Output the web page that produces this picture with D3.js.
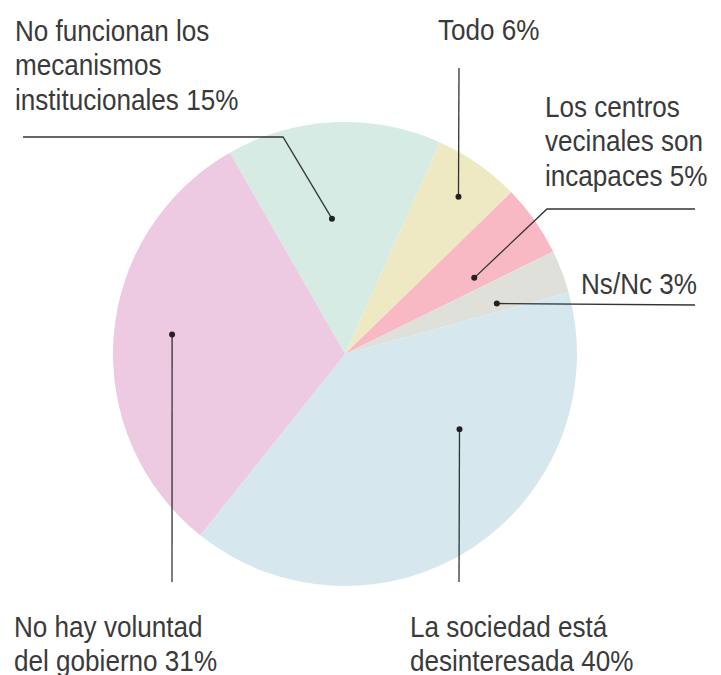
<!DOCTYPE html>
<html>
<head>
<meta charset="utf-8">
<script src="https://cdn.jsdelivr.net/npm/d3@7"></script>
<style>
  body { margin: 0; background: #fff; }
  text { font-family: "Liberation Sans", Arial, sans-serif; fill: #3a3a3a; }
</style>
</head>
<body>
<div id="chart"></div>
<script>
// slices, clockwise from the top-left
var categories = ["No funcionan los mecanismos institucionales", "Todo", "Los centros vecinales son incapaces", "Ns/Nc", "La sociedad está desinteresada", "No hay voluntad del gobierno"]
var values = [15, 6, 5, 3, 40, 31]
var colours = ["#d5ebe3", "#efe9c3", "#f8b8c4", "#e0e0da", "#d6e8ed", "#edc9e2"]
var labelLines = [
	["No funcionan los", "mecanismos", "institucionales 15%"],
	["Todo 6%"],
	["Los centros", "vecinales son", "incapaces 5%"],
	["Ns/Nc 3%"],
	["La sociedad está", "desinteresada 40%"],
	["No hay voluntad", "del gobierno 31%"]
]

var width = 721, height = 675
var cx = 345, cy = 354, radius = 232

var svg = d3.select("#chart").append("svg")
	.attr("width", width)
	.attr("height", height)

var g = svg.append("g").attr("transform", "translate(" + cx + "," + cy + ")")

var start = -29.8 * Math.PI / 180
var pie = d3.pie().sort(null)
	.startAngle(start)
	.endAngle(2 * Math.PI + start)

var arcs = pie(values)
var arc = d3.arc().innerRadius(0).outerRadius(radius)

g.selectAll("path.slice")
	.data(arcs)
	.enter().append("path")
	.attr("class", "slice")
	.attr("d", arc)
	.attr("fill", function(d, i){ return colours[i] })

// leader layout: dot (angle offset in deg, radius), path after dot, text position
var layout = [
	{ da: -2.7, r: 136, path: [[283, 137], [23, 137]], tx: 15, ty: 41, anchor: "start" },
	{ da: 0.8, r: 194, path: [[459, 68]], tx: 438, ty: 40, anchor: "start" },
	{ da: 4.7, r: 150, path: [[547, 209], [695, 209]], tx: 545, ty: 117, anchor: "start" },
	{ da: 2.4, r: 160, path: [[695, 305]], tx: 697, ty: 294, anchor: "end" },
	{ da: -23.3, r: 137, path: [[459, 582]], tx: 410, ty: 637, anchor: "start" },
	{ da: 2, r: 174, path: [[172, 582]], tx: 14, ty: 637, anchor: "start" }
]

function dotPos(d, i){
	var a = (d.startAngle + d.endAngle) / 2 + layout[i].da * Math.PI / 180
	return [cx + layout[i].r * Math.sin(a), cy - layout[i].r * Math.cos(a)]
}

arcs.forEach(function(d, i){
	var p = dotPos(d, i)
	var pts = [p].concat(layout[i].path)
	svg.append("path")
		.attr("d", d3.line()(pts))
		.attr("fill", "none")
		.attr("stroke", "#333")
		.attr("stroke-width", 1.3)
	svg.append("circle")
		.attr("cx", p[0])
		.attr("cy", p[1])
		.attr("r", 3)
		.attr("fill", "#222")

	// condensed look: squeeze the text horizontally
	var t = svg.append("text")
		.attr("transform", "translate(" + layout[i].tx + "," + layout[i].ty + ") scale(0.9,1)")
		.attr("text-anchor", layout[i].anchor)
		.attr("font-size", 29)
	labelLines[i].forEach(function(line, j){
		t.append("tspan")
			.attr("x", 0)
			.attr("dy", j == 0 ? 0 : 34.5)
			.text(line)
	})
})
</script>
</body>
</html>
